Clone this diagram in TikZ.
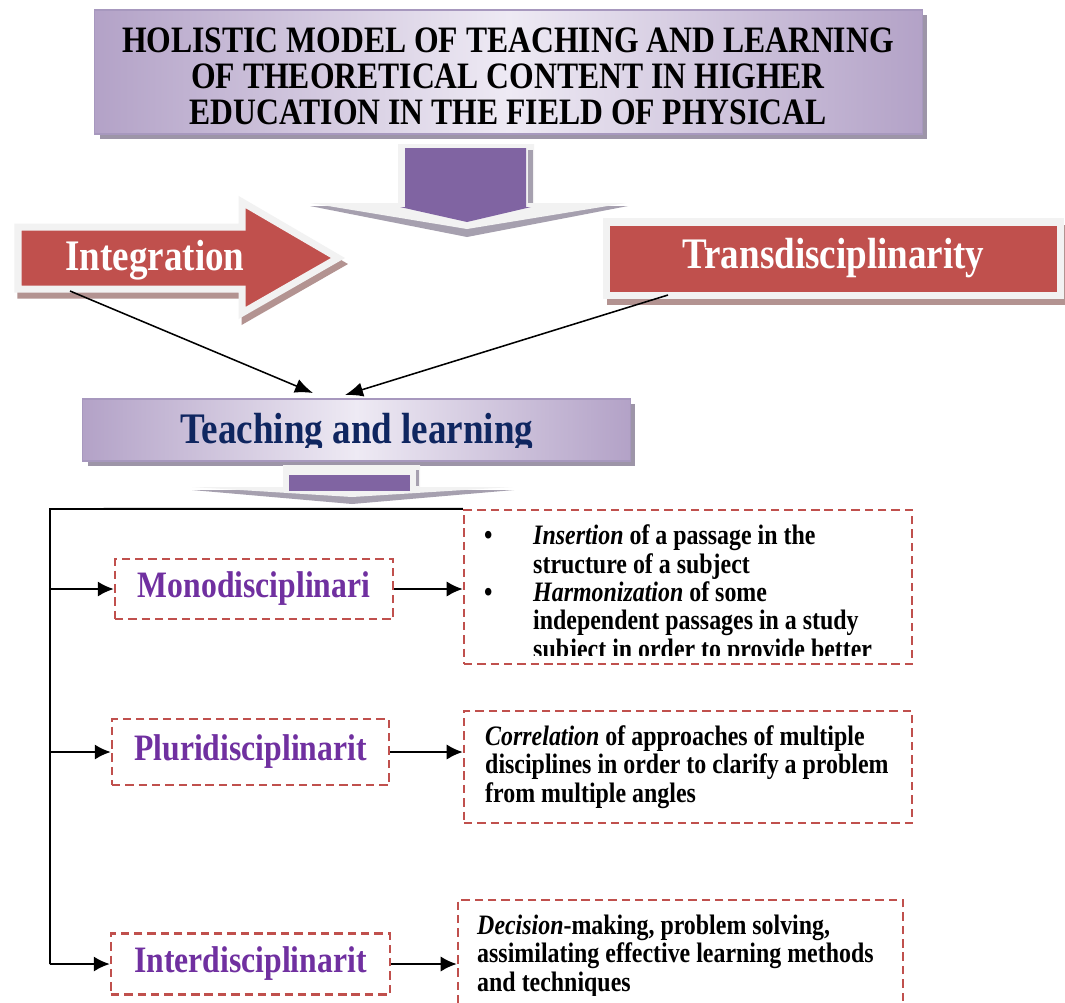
\documentclass[tikz,border=0pt]{standalone}
\usepackage{graphicx}
\usepackage{fontspec}
\setmainfont{Liberation Serif}
\usetikzlibrary{arrows.meta,calc}

\definecolor{lavdeep}{HTML}{B3A2C7}
\definecolor{lavpale}{HTML}{EEEAF4}
\definecolor{lavline}{HTML}{A798BE}
\definecolor{lavshade}{HTML}{9D95A8}
\definecolor{plum}{HTML}{8064A2}
\definecolor{brick}{HTML}{C0504D}
\definecolor{brickshade}{HTML}{B39391}
\definecolor{rim}{HTML}{F2F2F2}
\definecolor{wing}{HTML}{A6A0AF}
\definecolor{navyblue}{HTML}{0F2660}
\definecolor{violet}{HTML}{7030A0}

% narrow the bold serif a little
\newcommand{\sq}[1]{\scalebox{0.85}[1]{#1}}

\tikzset{
	conn/.style={line width=1.4pt, -{Latex[length=0.4cm,width=0.38cm]}},
	slant/.style={line width=1.1pt, -{Latex[length=0.45cm,width=0.36cm]}},
	dbox/.style={draw=brick, line width=1.7pt, dash pattern=on 6pt off 3.5pt},
	lavbox/.style={draw=lavline, line width=0.8pt, left color=lavdeep, right color=lavdeep, middle color=lavpale},
	redbox/.style={draw=rim, line width=0.175cm, fill=brick, text=white, font=\fontsize{31}{33}\selectfont\bfseries},
	lbl/.style={text=violet, font=\fontsize{26.5}{28}\selectfont\bfseries},
	% multi-line text: anchored on the baseline of its last line
	body/.style={font=\fontsize{20}{20.1}\selectfont\bfseries, align=left, xscale=0.85, anchor=base west, inner sep=0pt},
	head/.style={font=\fontsize{26.5}{25.6}\selectfont\bfseries, align=center, xscale=0.85, anchor=base, inner sep=0pt},
}

\begin{document}
\begin{tikzpicture}[x=0.025cm, y=-0.025cm]
		%%%%% START %%%%%
		\useasboundingbox (0,0) rectangle (1065,1002);
		\fill[white] (0,0) rectangle (1065,1002);
		
		% title block
		\fill[lavshade] (100,15) rectangle (927,139);
		\node[lavbox, minimum width=20.675cm, minimum height=3.1cm] (title) at (508.5,72) {};
		\node[head] (titletxt) at (508,124) {HOLISTIC MODEL OF TEACHING AND LEARNING\\OF THEORETICAL CONTENT IN HIGHER\\EDUCATION IN THE FIELD OF PHYSICAL};
		
		% big down arrow
		\fill[wing] (310,206) -- (628,206) -- (467,237) -- cycle;
		\fill[rim] (398,144) -- (534,144) -- (534,203) -- (626,203) -- (467,229) -- (310,203) -- (398,203) -- cycle;
		\fill[wing] (528,150) rectangle (533,203);
		\fill[plum] (405,148) -- (526,148) -- (526,207) -- (531,207) -- (467,222) -- (400,207) -- (405,207) -- cycle;
		
		% Integration arrow
		\def\intpath{(18,227) -- (242,227) -- (242,202) -- (338,258) -- (242,313) -- (242,289) -- (18,289) -- cycle}
		\draw[brickshade, line width=0.175cm, fill=brickshade, shift={(3,6)}] \intpath;
		\draw[rim, line width=0.175cm, fill=brick] \intpath;
		\node[text=white, font=\fontsize{31}{33}\selectfont\bfseries, anchor=base] (intg) at (155,270) {\sq{Integration}};
		
		% Transdisciplinarity box
		\draw[brickshade, line width=0.175cm, fill=brickshade] (610,228) rectangle (1068,301);
		\node[redbox, minimum width=11.325cm, minimum height=1.825cm] (trans) at (833.5,258.5) {\sq{Transdisciplinarity}};
		
		\coordinate (intfoot) at (70,291);
		\coordinate (transfoot) at (668,295);
		\coordinate (tipa) at (313,393);
		\coordinate (tipb) at (345,395);
		\draw[slant] (intfoot) -- (tipa);
		\draw[slant] (transfoot) -- (tipb);
		
		% Teaching and learning
		\fill[lavshade] (88,404) rectangle (635,466);
		\node[lavbox, minimum width=13.675cm, minimum height=1.55cm] (teach) at (356.5,430) {};
		\begin{scope}
			\clip (83,399) rectangle (630,447);
			\node[text=navyblue, font=\fontsize{31}{33}\selectfont\bfseries, anchor=base] (teachtxt) at (357,443) {\sq{Teaching and learning}};
		\end{scope}
		
		% small down arrow
		\fill[wing] (192,490) -- (514,490) -- (352,504) -- cycle;
		\fill[rim] (283,465) -- (420,465) -- (420,487) -- (512,487) -- (352,497) -- (192,487) -- (283,487) -- cycle;
		\fill[wing] (416,470) rectangle (419,486);
		\fill[plum] (289,475) rectangle (410,491);
		
		% left column
		\node[dbox, lbl, minimum width=6.95cm, minimum height=1.5cm] (mono) at (254,589) {\sq{Monodisciplinari}};
		\node[dbox, lbl, minimum width=6.925cm, minimum height=1.65cm] (pluri) at (250.5,752) {\sq{Pluridisciplinarit}};
		\node[dbox, lbl, minimum width=6.975cm, minimum height=1.525cm] (inter) at (250.5,964) {\sq{Interdisciplinarit}};
		
		% right column
		\node[dbox, minimum width=11.2cm, minimum height=3.85cm] (box1) at (688,587) {};
		\node[dbox, minimum width=11.2cm, minimum height=2.8cm] (box2) at (688,767) {};
		\node[dbox, minimum width=11.125cm, minimum height=2.75cm] (box3) at (680.5,955) {};
		
		\begin{scope}
			\clip (464,510) rectangle (912,655);
			\node[body] (b1txt) at (533,658) {\llap{\textbullet\hspace{1.2cm}}\textit{Insertion} of a passage in the\\structure of a subject\\\llap{\textbullet\hspace{1.2cm}}\textit{Harmonization} of some\\independent passages in a study\\subject in order to provide better};
		\end{scope}
		\node[body] (b2txt) at (485,802) {\textit{Correlation} of approaches of multiple\\disciplines in order to clarify a problem\\from multiple angles};
		\begin{scope}
			\clip (458,900) rectangle (903,995);
			\node[body] (b3txt) at (477,991) {\textit{Decision}-making, problem solving,\\assimilating effective learning methods\\and techniques};
		\end{scope}
		
		% connectors
		\coordinate (spine) at (50,509);
		\draw[line width=1.4pt] (box1.north west) -- (spine) -- (inter.west -| spine);
		\draw[conn] (mono.west -| spine) -- (mono.west);
		\draw[conn] (pluri.west -| spine) -- (pluri.west);
		\draw[conn] (inter.west -| spine) -- (inter.west);
		\draw[conn] (mono.east) -- (mono.east -| box1.west);
		\draw[conn] (pluri.east) -- (pluri.east -| box2.west);
		\draw[conn] (inter.east) -- (inter.east -| box3.west);
		
		%%%%% END %%%%%
	\end{tikzpicture}
\end{document}
